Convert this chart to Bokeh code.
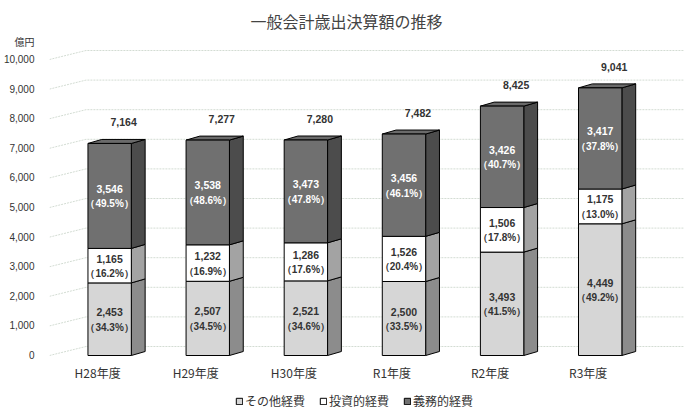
from bokeh.plotting import figure
from bokeh.models import (Range1d, FixedTicker, NumeralTickFormatter, Label,
                          Legend, LegendItem, ColumnDataSource)
from bokeh.embed import file_html
from bokeh.resources import INLINE
from bokeh.core.properties import value

# ---------------- data ----------------
categories = ["H28年度", "H29年度", "H30年度", "R1年度", "R2年度", "R3年度"]
other = [2453, 2507, 2521, 2500, 3493, 4449]          # その他経費
invest = [1165, 1232, 1286, 1526, 1506, 1175]         # 投資的経費
mandatory = [3546, 3538, 3473, 3456, 3426, 3417]      # 義務的経費
totals = [7164, 7277, 7280, 7482, 8425, 9041]
other_pct = [34.3, 34.5, 34.6, 33.5, 41.5, 49.2]
invest_pct = [16.2, 16.9, 17.6, 20.4, 17.8, 13.0]
mandatory_pct = [49.5, 48.6, 47.8, 46.1, 40.7, 37.8]
series_names = ["その他経費", "投資的経費", "義務的経費"]
y_ticks = [0, 1000, 2000, 3000, 4000, 5000, 6000, 7000, 8000, 9000, 10000]
title_text = "一般会計歳出決算額の推移"
unit_text = "億円"

# ---------------- layout / style constants ----------------
W, H = 684, 412
LEFT = 40                 # border for y labels
PX_X = 99.5               # px per category
PX_Y = 0.0296             # px per value unit
X0_PX = 101 - LEFT        # frame px of category 0 centre
Y0_PX = 355               # canvas px (from top) of value 0
UNIT_PX = 42              # canvas px (from top) of the unit label
frame_w = W - LEFT
x_start = -X0_PX / PX_X
x_end = x_start + frame_w / PX_X
y_end = Y0_PX / PX_Y
y_start = y_end - H / PX_Y
unit_pos = (Y0_PX - UNIT_PX) / PX_Y

HALF = 22 / PX_X          # half bar width
DX = 14 / PX_X            # bar depth x
DY = 4 / PX_Y             # bar depth y
WALL_DX = 37 / PX_X
WALL_DY = 9 / PX_Y

front_cols = ["#d6d6d6", "#ffffff", "#707070"]
side_cols = ["#8c8c8c", "#a3a3a3", "#4c4c4c"]
top_col = "#6a6a6a"
grid_col = "#d3dcd3"
txt_col = "#333333"
JP = "Noto Sans CJK JP"
NUM = "Liberation Sans"

p = figure(width=W, height=H, output_backend="svg", toolbar_location=None,
           x_range=Range1d(x_start, x_end), y_range=Range1d(y_start, y_end),
           x_axis_location=None, min_border_left=LEFT, min_border_right=0,
           min_border_top=0, min_border_bottom=0, outline_line_color=None,
           background_fill_color="white", border_fill_color="white")
p.xgrid.visible = False
p.ygrid.visible = False

# y axis (the unit "億円" sits above the top tick, as in the original)
ya = p.yaxis[0]
ya.ticker = FixedTicker(ticks=y_ticks + [unit_pos])
ya.formatter = NumeralTickFormatter(format="0,0")
ya.major_label_overrides = {unit_pos: unit_text}
ya.axis_line_color = None
ya.major_tick_line_color = None
ya.minor_tick_line_color = None
ya.major_label_standoff = 9
ya.major_label_text_font = "'Liberation Sans', 'Noto Sans CJK JP'"
ya.major_label_text_font_size = "10px"
ya.major_label_text_color = txt_col

# walls gridlines (left wall slant + back wall horizontal)
gx = [[x_start, x_start + WALL_DX, x_end] for v in y_ticks]
gy = [[v, v + WALL_DY, v + WALL_DY] for v in y_ticks]
p.multi_line(gx, gy, line_color=grid_col, line_width=1, line_dash="2 1")

# ---------------- bars ----------------
xs = list(range(len(categories)))
segs = [other, invest, mandatory]
bottoms = []
acc = [0] * len(xs)
for s in segs:
    bottoms.append(list(acc))
    acc = [a + v for a, v in zip(acc, s)]

front_renderers = []
for k, s in enumerate(segs):
    b = bottoms[k]
    t = [bb + v for bb, v in zip(b, s)]
    # side faces
    sx = [[i + HALF, i + HALF + DX, i + HALF + DX, i + HALF] for i in xs]
    sy = [[bb, bb + DY, tt + DY, tt] for bb, tt in zip(b, t)]
    p.patches(sx, sy, fill_color=side_cols[k], line_color="black", line_width=1)
    # top face for upper segment
    if k == len(segs) - 1:
        tx = [[i - HALF, i - HALF + DX, i + HALF + DX, i + HALF] for i in xs]
        ty = [[tt, tt + DY, tt + DY, tt] for tt in t]
        p.patches(tx, ty, fill_color=top_col, line_color="black", line_width=1)
    src = ColumnDataSource(dict(left=[i - HALF for i in xs], right=[i + HALF for i in xs],
                                bottom=b, top=t))
    r = p.quad(left="left", right="right", bottom="bottom", top="top", source=src,
               fill_color=front_cols[k], line_color="black", line_width=1)
    front_renderers.append(r)

# segment labels
pcts = [other_pct, invest_pct, mandatory_pct]
lab_cols = [txt_col, txt_col, "white"]
for k, s in enumerate(segs):
    mids = [bb + v / 2 for bb, v in zip(bottoms[k], s)]
    vals = [f"{v:,}" for v in s]
    pc = [f"（{q:.1f}%）" for q in pcts[k]]
    p.text(xs, mids, text=vals, text_align="center", text_baseline="middle",
           y_offset=-7, text_font=value(NUM), text_font_style="bold",
           text_font_size="10.5px", text_color=lab_cols[k])
    p.text(xs, mids, text=pc, text_align="center", text_baseline="middle",
           y_offset=8, text_font=value(NUM), text_font_style="bold",
           text_font_size="10px", text_color=lab_cols[k])

# totals
p.text(xs, totals, text=[f"{v:,}" for v in totals], text_align="center",
       text_baseline="middle", x_offset=14, y_offset=-21, text_font=value(NUM),
       text_font_style="bold", text_font_size="10.5px", text_color=txt_col)

# category labels
p.text(xs, [0] * len(xs), text=categories, text_align="center", text_baseline="middle",
       x_offset=-12, y_offset=17, text_font=value(JP), text_font_size="12px",
       text_color=txt_col)

# title
p.add_layout(Label(x=297, y=H - 20, x_units="screen", y_units="screen", text=title_text,
                   text_align="center", text_baseline="middle", text_font=JP,
                   text_font_size="16px", text_color="#444444"))

# legend
legend = Legend(items=[LegendItem(label=n, renderers=[r]) for n, r in zip(series_names, front_renderers)],
                location=(186, 3), orientation="horizontal", glyph_width=8, glyph_height=8,
                label_standoff=2, spacing=14, padding=0, margin=0,
                border_line_color=None, background_fill_alpha=0,
                label_text_font=JP, label_text_font_size="12px", label_text_color=txt_col)
p.add_layout(legend)

open("out.html", "w").write(file_html(p, INLINE))
